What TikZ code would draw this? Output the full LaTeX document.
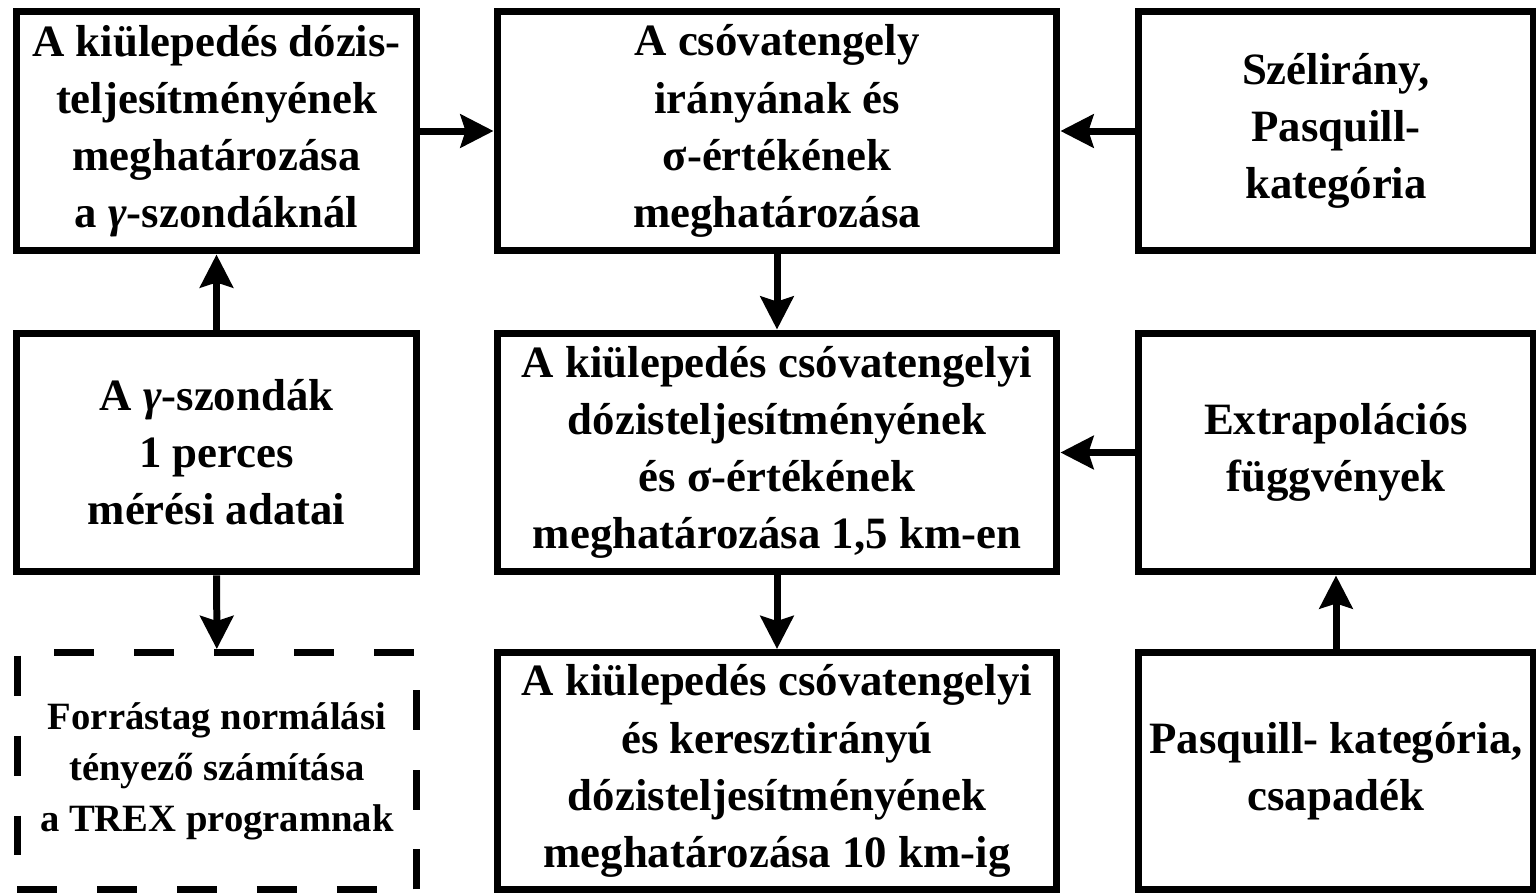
\documentclass[tikz,border=0pt]{standalone}
\usepackage{fontspec}
\setmainfont{Liberation Serif}
\usetikzlibrary{arrows.meta}
\begin{document}
\begin{tikzpicture}[x=0.02cm,y=-0.02cm,
  >={Stealth[length=0.66cm,width=0.66cm,inset=0.1cm]},
  box/.style={draw,line width=0.14cm,align=center,inner sep=0pt,
    font=\bfseries\fontsize{25.5}{32.5}\selectfont},
  dbox/.style={box,dash pattern=on 0.8cm off 0.8cm,
    font=\bfseries\fontsize{22}{29}\selectfont},
  arr/.style={->,line width=0.14cm}]
\useasboundingbox (0,0) rectangle (1536,893);
% upper row
\node[box,minimum width=8cm,minimum height=4.8cm] (dose) at (216.5,131)
  {A kiülepedés dózis-\\teljesítményének\\meghatározása\\a {\itshape γ}-szondáknál};
\node[box,minimum width=11.2cm,minimum height=4.8cm] (axis) at (777,131)
  {A csóvatengely\\irányának és\\ σ-értékének\\meghatározása};
\node[box,minimum width=7.92cm,minimum height=4.8cm] (wind) at (1336,131)
  {Szélirány,\\Pasquill-\\kategória};
% middle row
\node[box,minimum width=8cm,minimum height=4.78cm] (probe) at (216.5,452.5)
  {A {\itshape γ}-szondák\\1 perces\\mérési adatai};
\node[box,minimum width=11.2cm,minimum height=4.78cm] (near) at (777,452.5)
  {A kiülepedés csóvatengelyi\\dózisteljesítményének\\és σ-értékének\\meghatározása 1,5 km-en};
\node[box,minimum width=7.92cm,minimum height=4.78cm] (extra) at (1336,452.5)
  {Extrapolációs\\függvények};
% lower row
\node[dbox,minimum width=8cm,minimum height=4.74cm] (trex) at (217,771)
  {Forrástag normálási\\tényező számítása\\a TREX programnak};
\node[box,minimum width=11.2cm,minimum height=4.74cm] (far) at (777,771)
  {A kiülepedés csóvatengelyi\\és keresztirányú\\dózisteljesítményének\\meghatározása 10 km-ig};
\node[box,minimum width=7.92cm,minimum height=4.74cm] (rain) at (1336,771)
  {Pasquill- kategória,\\csapadék};
% arrows
\draw[arr] (dose) -- (axis);
\draw[arr] (wind) -- (axis);
\draw[arr] (axis) -- (near);
\draw[arr] (probe) -- (dose);
\draw[arr] (probe) -- (trex);
\draw[arr] (extra) -- (near);
\draw[arr] (near) -- (far);
\draw[arr] (rain) -- (extra);
\end{tikzpicture}
\end{document}
